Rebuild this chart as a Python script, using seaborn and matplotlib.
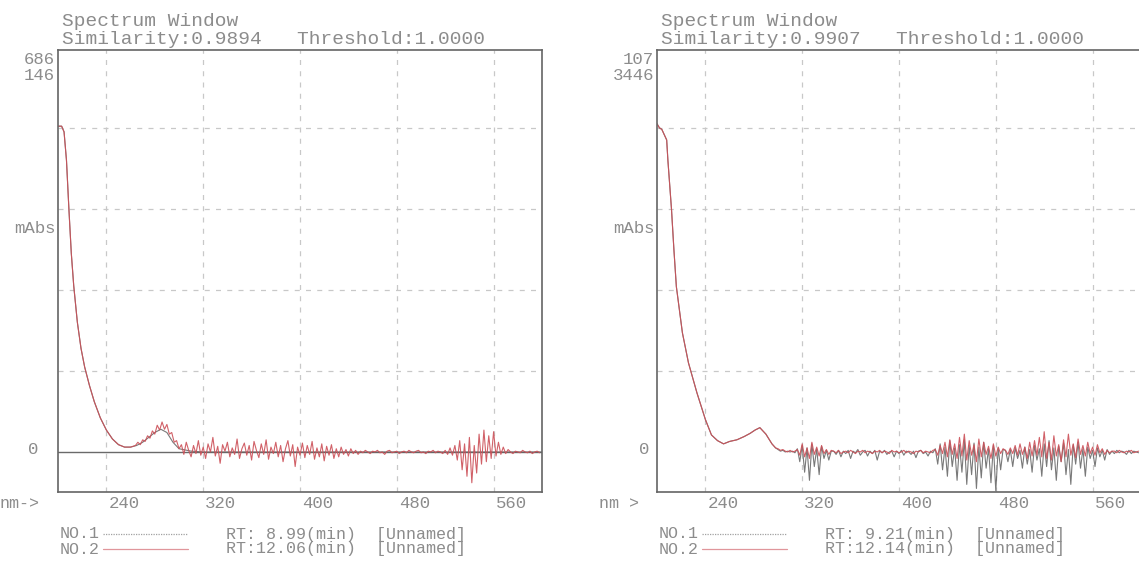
import numpy as np
import pandas as pd
import matplotlib
matplotlib.use("Agg")
import matplotlib.pyplot as plt
from matplotlib.lines import Line2D
import seaborn as sns

# ---- data (relative units, 0 = baseline) ----
# left window, smooth part of spectrum NO.1 (also start of NO.2)
left_nm = [200, 203, 205, 207, 209, 211, 213, 216, 219, 222, 226, 230, 235, 240,
           245, 250, 255, 260, 265, 270, 275, 280, 285, 290, 295, 300, 310, 320,
           400, 480, 560, 600]
left_abs = [4.02, 4.02, 3.95, 3.60, 3.00, 2.45, 2.05, 1.60, 1.28, 1.05, 0.82, 0.62,
            0.42, 0.27, 0.16, 0.09, 0.06, 0.06, 0.08, 0.12, 0.18, 0.24, 0.28, 0.24,
            0.12, 0.04, 0.01, 0.0, 0.0, 0.0, 0.0, 0.0]
# left window, NO.2 noisy trace from 264 nm in 2 nm steps (x0.01)
left_red_start = 264
left_red = [8, 12, 9, 15, 13, 20, 17, 26, 22, 33, 27, 37, 28, 34, 22, 24, 12, 14, 4,
            9, -3, 12, 2, -6, 8, -2, 14, -4, 6, -8, 10, 0, 18, -5, 7, -14, 9, 1, 12,
            -6, 5, -3, 16, -8, 4, 11, -4, 8, -10, 13, 2, -7, 10, -3, 15, -9, 6, -2, 12,
            -6, 8, -12, 4, 14, -5, 9, -18, 6, -4, 11, -7, 8, -3, 13, -9, 5, -6, 10, -11,
            7, -4, 9, -8, 4, -6, 6, -3, 3, -5, 4, -2, 2, -3,
            1, -1, 2, 0, -2, 1, 0, 2, -1, 0, -3, 1, 2, -1, 0, 1, -2, 0, 1, -1, 2, 0, -1,
            1, 2, -1, 0, -2, 1, 0, 2, -1, 1, 0, -2, 2, -3, 5, -4, 8,
            -10, 14, -22, 10, -30, 18, -38, 8, -26, 22, -15, 27, -12, 20, -8, 25, -5, 12,
            -3, 6, -2, 3, 0, -2, 1, 0, -1, 2, 0, -1, 1, -2, 0, 1, -1]

# right window, smooth part shared by both traces
right_nm = [200, 202, 204, 208, 209, 212, 214, 216, 221, 226, 233, 240, 245, 250,
            255, 260, 266, 272, 277, 281, 285, 290, 295, 298]
right_abs = [4.05, 4.00, 3.98, 3.85, 3.60, 2.99, 2.49, 2.04, 1.47, 1.10, 0.73, 0.40,
             0.21, 0.14, 0.10, 0.13, 0.15, 0.19, 0.23, 0.27, 0.30, 0.22, 0.10, 0.05]
# right window, noisy traces from 300 nm in 2 nm steps (x0.01)
right_noise_start = 300
right_gray = [3, 1, 2, 0, 1, 0, 1, -1,
              4, -12, 8, -25, 5, -35, 10, -18, 4, -28, 7, -8, 2, -10, 1,
              1, -3, 2, -6, 1, -2, 2, -8, 1, -1, 3, -4, 0, 2, -5, 1, -2, 2, -10, 1, -1,
              2, -3, 0, 1, -6, 1, -2, 2, -4, 1, 0, -3, 1, -7, 1, 2, -2, 0, -5, 1, -1,
              4, -15, 10, -22, 6, -30, 14, -18, 5, -35, 9, -25, 15, -40, 8, -28, 11,
              -45, 6, -32, 12, -20, 4, -38, 8, -48, 5, -22, 3,
              2, -12, 3, -18, 5, -8, 2, -20, 6, -15, 3, -25, 8, -10, 4, -30, 10, -18,
              14, -22, 5, -35, 7, -12, 11, -28, 3, -40, 9, -15, 12, -20, 4, -30, 6,
              -8, 2, -18, 5, -6, 2, -10, 3, -3, 1,
              -2, 2, -1, 1, 0, -3, 2, -2, 1, 0, -1]
right_red = [4, 2, 3, 1, 0, 2, 0, 1,
             3, -4, 10, -6, 5, -8, 12, -3, 6, -5, 8, -2, 3, -3, 2,
             1, -1, 2, -2, 0, 1, -1, 2, 0, -2, 1, 0, 2, -1, 1, 0, -2, 1, 0, 2, -1, 1, 0,
             -2, 2, 0, 1, -1, 0, 2, -1, 1, 0, -2, 1, 0, 2, -1, 1, 0, -1, 2,
             3, -4, 8, -2, 12, -6, 15, -3, 10, -8, 18, -5, 22, -10, 14, -4, 9, -12, 16,
             -6, 12, -3, 7, -8, 10, -5, 6, -2, 4,
             2, -3, 5, -2, 8, -4, 10, -3, 6, -8, 12, -5, 14, -4, 18, -6, 25, -8, 12,
             -10, 20, -5, 9, -12, 15, -6, 22, -4, 10, -7, 16, -3, 8, -5, 12, -2, 6, -4,
             9, -1, 4, -3, 2, -1, 1,
             1, -1, 2, 0, -1, 1, 0, 2, -1, 0, 1]

ticks_nm = [240, 320, 400, 480, 560]
panels = [
    dict(sim="0.9894", top=["686", "146"], rt=[" 8.99", "12.06"], nm_lbl="nm->", zero_dx=-25),
    dict(sim="0.9907", top=["107", "3446"], rt=[" 9.21", "12.14"], nm_lbl="nm >", zero_dx=-13),
]

# ---- build the tables ----
def noise_df(start, vals, name):
    return pd.DataFrame({"nm": [start + 2 * i for i in range(len(vals))],
                         "abs": [v / 100 for v in vals], "trace": name})

left_black = pd.DataFrame({"nm": left_nm, "abs": left_abs, "trace": "NO.1"})
left_red_df = pd.concat([left_black[left_black.nm <= 260].assign(trace="NO.2"),
                         noise_df(left_red_start, left_red, "NO.2")])
right_base = pd.DataFrame({"nm": right_nm, "abs": right_abs})
right_black = pd.concat([right_base.assign(trace="NO.1"),
                         noise_df(right_noise_start, right_gray, "NO.1")])
right_red_df = pd.concat([right_base.assign(trace="NO.2"),
                          noise_df(right_noise_start, right_red, "NO.2")])

sns.set_style("white")
plt.rcParams["font.family"] = ["Liberation Mono", "DejaVu Sans Mono"]

W, H = 1139, 561
TXT = "#8c8c8c"
C1 = "#626262"
C2 = "#cc5058"

fig = plt.figure(figsize=(W / 100, H / 100), dpi=100)


def px(x, y):
    return x / W, 1 - y / H


def add_text(x, y, s, size=14, ha="left", va="center", color=TXT):
    fig.text(*px(x, y), s, fontsize=size, ha=ha, va=va, color=color)


ax_top, ax_bot = 50, 492
lefts = [58, 657]
data = [(left_black, left_red_df), (right_black, right_red_df)]

for i, (x0, p, (d1, d2)) in enumerate(zip(lefts, panels, data)):
    ax = fig.add_axes([x0 / W, 1 - ax_bot / H, 484 / W, (ax_bot - ax_top) / H])
    ax.set_xlim(200, 600)
    ax.set_ylim(-0.494, 4.96)
    ax.set_xticks(ticks_nm)
    ax.set_yticks([1, 2, 3, 4])
    ax.grid(True, color="#c8c8c8", linestyle=(0, (4, 5)), linewidth=0.9)
    ax.tick_params(length=0, labelleft=False, labelbottom=False)
    for s in ax.spines.values():
        s.set_color("#656565")
        s.set_linewidth(1.2)
    if i == 0:
        ax.axhline(0, color="#6a6a6a", linewidth=1.0, zorder=1)
    sns.lineplot(data=d1, x="nm", y="abs", ax=ax, color=C1, linewidth=0.8,
                 estimator=None, sort=False, legend=False, alpha=0.85)
    sns.lineplot(data=d2, x="nm", y="abs", ax=ax, color=C2, linewidth=0.8,
                 estimator=None, sort=False, legend=False, alpha=0.9)
    ax.set_xlabel("")
    ax.set_ylabel("")

    # header
    add_text(x0 + 4, 21, "Spectrum Window")
    add_text(x0 + 4, 40, "Similarity:%s   Threshold:1.0000" % p["sim"])
    # y labels
    add_text(x0 - 3, 59, p["top"][0], size=12.5, ha="right")
    add_text(x0 - 3, 75, p["top"][1], size=12.5, ha="right")
    add_text(x0 - 2, 228, "mAbs", size=12.5, ha="right")
    add_text(x0 + p["zero_dx"], 450, "0", size=12.5, ha="center")
    # x labels
    add_text(x0 - 38, 503, p["nm_lbl"], size=12, ha="center")
    for t in ticks_nm:
        tx = x0 + (t - 200) * 484 / 400
        add_text(tx + 2, 503, str(t), size=12.5)
    # legend
    for j, (col, ls) in enumerate([(C1, (0, (1, 1))), (C2, "-")]):
        yy = 534 + j * 15
        add_text(x0 + 2, yy, "NO.%d" % (j + 1), size=12)
        fig.add_artist(Line2D([(x0 + 45) / W, (x0 + 130) / W], [1 - yy / H] * 2,
                              color=col, linewidth=0.9, linestyle=ls, alpha=0.6))
        add_text(x0 + 168, yy, "RT:%s(min)  [Unnamed]" % p["rt"][j], size=12)

fig.savefig("out.png", dpi=100, facecolor="white")
